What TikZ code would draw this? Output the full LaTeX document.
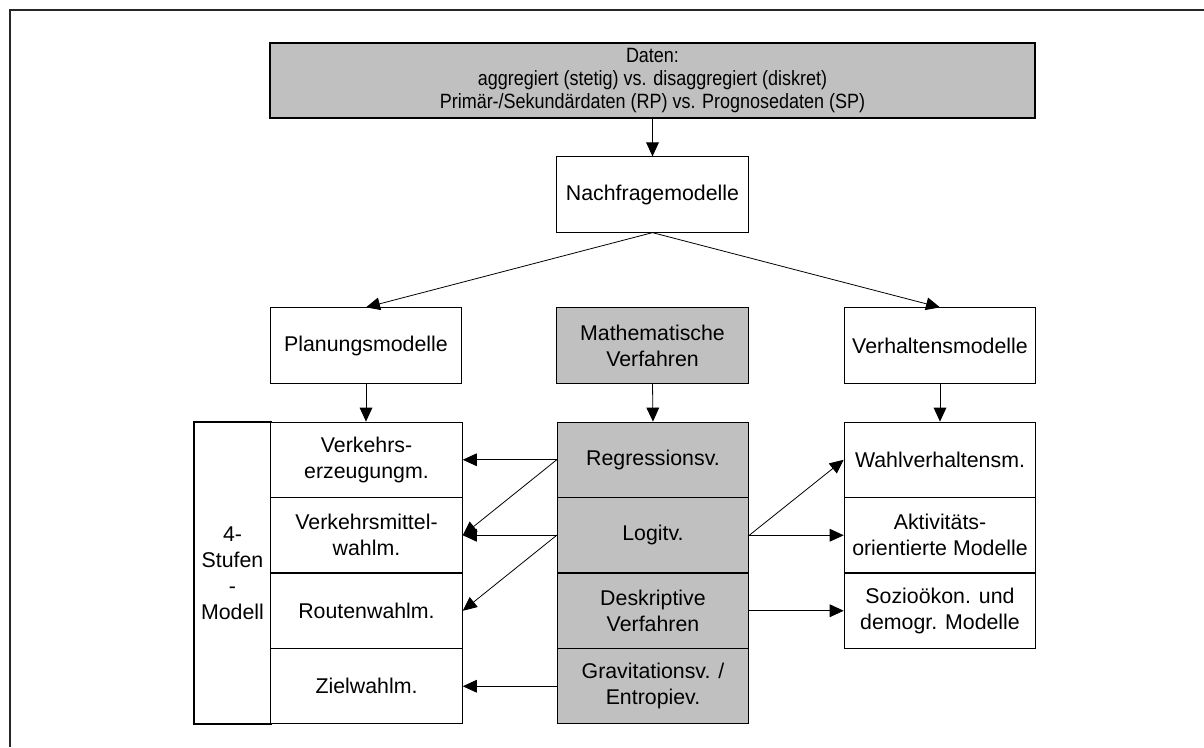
\documentclass[tikz,border=0pt]{standalone}
\usepackage{fontspec}
\setmainfont{Liberation Sans}
\newfontfamily\condfont[FakeStretch=0.87]{Liberation Sans}
\usetikzlibrary{arrows.meta}
\definecolor{boxgray}{HTML}{C0C0C0}
\tikzset{
  x=0.75pt, y=-0.75pt,
  box/.style={draw=black, line width=0.8pt, fill=white, inner sep=0pt, align=center,
    minimum width=143.6pt, minimum height=56.4pt,
    font=\fontsize{16pt}{19.5pt}\selectfont},
  graybox/.style={box, fill=boxgray},
  conn/.style={line width=0.6pt, -{Triangle[length=10.5pt,width=9.5pt]}},
}
\begin{document}
\begin{tikzpicture}
\useasboundingbox (0,0) rectangle (1204,747);
\draw[line width=1.6pt, black!85] (10,747) -- (10,10) -- (1204,10);

\node[graybox, minimum width=573.75pt, minimum height=56.25pt,
  font=\condfont\fontsize{15.5pt}{17.3pt}\selectfont] (daten) at (652.5,80.5)
  {Daten:\\aggregiert (stetig) vs. disaggregiert (diskret)\\Primär-/Sekundärdaten (RP) vs. Prognosedaten (SP)};

\node[box] (nach) at (652.5,194.5) {Nachfragemodelle};
\node[box] (plan) at (366,345.5) {Planungsmodelle};
\node[graybox] (math) at (652.5,345.5) {Mathematische\\Verfahren};
\node[box] (verh) at (940,345.5) {Verhaltensmodelle};

% 4-Stufen-Modell
\node[box, minimum width=57.75pt, minimum height=226.5pt] (stufen) at (232.5,573) {4-\\Stufen\\-\\Modell};
\node[box] (v1) at (366.5,459.75) {Verkehrs-\\erzeugungm.};
\node[box] (v2) at (366.5,535.25) {Verkehrsmittel-\\wahlm.};
\node[box] (v3) at (366.5,610.75) {Routenwahlm.};
\node[box] (v4) at (366.5,686.25) {Zielwahlm.};

\node[graybox] (m1) at (653,459.75) {Regressionsv.};
\node[graybox] (m2) at (653,535.25) {Logitv.};
\node[graybox] (m3) at (653,610.75) {Deskriptive\\Verfahren};
\node[graybox] (m4) at (653,686.25) {Gravitationsv. /\\Entropiev.};

\node[box] (r1) at (940,459.75) {Wahlverhaltensm.};
\node[box] (r2) at (940,535.25) {Aktivitäts-\\orientierte Modelle};
\node[box] (r3) at (940,610.75) {Sozioökon. und\\demogr. Modelle};

% connectors
\draw[conn] (daten.south) -- (nach.north);
\draw[conn] (nach.south) -- (plan.north);
\draw[conn] (nach.south) -- (verh.north);
\draw[conn] (plan.south) -- (v1.north -| plan.south);
\draw[conn] (math.south) -- (m1.north);
\draw[conn] (verh.south) -- (r1.north);

\draw[conn] (m1.west) -- (v1.east);
\draw[conn] (m1.west) -- (v2.east);
\draw[conn] (m2.west) -- (v2.east);
\draw[conn] (m2.west) -- (v3.east);
\draw[conn] (m4.west) -- (v4.east);

\draw[conn] (m2.east) -- (r1.west);
\draw[conn] (m2.east) -- (r2.west);
\draw[conn] (m3.east) -- (r3.west);
\end{tikzpicture}
\end{document}
